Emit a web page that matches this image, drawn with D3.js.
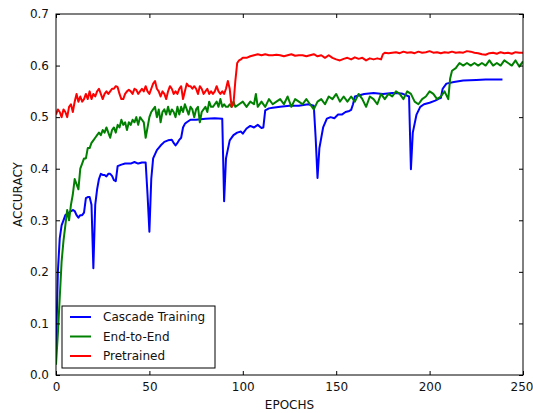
<!DOCTYPE html>
<html>
<head>
<meta charset="utf-8">
<script src="https://cdn.jsdelivr.net/npm/d3@7"></script>
<style>
  body { margin: 0; background: #fff; }
  text { font-family: "DejaVu Sans", sans-serif; fill: #111; }
</style>
</head>
<body>
<script>
// Cascade Training (blue)
const cascadeEpochs = [0,1,2,3,4,5,7,9,10,11,12,13,14,15,16,17,18,19,20,21,22,23,24,25,26,27,28,29,30,31,32,33,35,37,40,42,44,46,48,49,50,51,52,54,56,58,60,62,63,64,65,66,67,68,69,70,72,75,80,85,89,90,91,93,95,97,99,100,102,104,106,108,110,111,112,114,116,120,125,130,135,138,139,140,141,143,145,147,149,151,153,155,157,158,159,160,162,165,170,175,180,185,189,190,191,193,195,197,200,203,205,206,207,209,213,218,225,230,235,239];
const cascadeAcc = [0.05,0.2,0.265,0.29,0.30,0.31,0.315,0.32,0.318,0.31,0.305,0.31,0.31,0.315,0.343,0.345,0.345,0.33,0.207,0.33,0.36,0.38,0.39,0.388,0.388,0.385,0.39,0.39,0.386,0.378,0.376,0.405,0.408,0.41,0.41,0.413,0.41,0.412,0.412,0.35,0.278,0.38,0.42,0.436,0.445,0.452,0.455,0.456,0.45,0.445,0.45,0.456,0.46,0.48,0.487,0.49,0.495,0.495,0.497,0.498,0.497,0.337,0.42,0.455,0.465,0.47,0.472,0.468,0.478,0.483,0.48,0.485,0.479,0.48,0.513,0.517,0.518,0.52,0.522,0.522,0.525,0.522,0.46,0.382,0.44,0.48,0.497,0.5,0.498,0.505,0.505,0.51,0.512,0.514,0.525,0.54,0.542,0.545,0.547,0.545,0.547,0.546,0.54,0.399,0.47,0.505,0.52,0.525,0.528,0.532,0.536,0.537,0.555,0.565,0.568,0.571,0.572,0.573,0.573,0.573];

// End-to-End (green)
const endEpochs = [0,1,2,3,4,5,6,7,8,9,10,11,12,13,14,15,16,17,18,19,20,21,22,23,24,25,26,27,28,29,30,31,32,33,34,35,36,37,38,39,40,41,42,43,44,45,46,47,48,49,50,51,52,53,54,55,56,57,58,59,60,61,62,63,64,65,66,67,68,69,70,71,72,73,74,75,76,77,78,79,80,81,82,83,84,85,86,87,88,89,90,91,92,93,94,95,96,98,100,102,104,106,107,108,110,112,114,116,118,120,122,124,126,128,130,132,134,136,138,140,142,144,146,148,150,152,154,156,158,160,162,164,166,168,170,172,174,176,178,180,182,184,186,188,190,192,194,196,198,200,202,204,206,208,210,211,212,214,216,218,220,222,224,226,228,230,232,234,236,238,240,242,244,246,248,250];
const endAcc = [0.02,0.08,0.15,0.22,0.26,0.29,0.32,0.30,0.33,0.35,0.38,0.37,0.36,0.40,0.41,0.42,0.42,0.44,0.44,0.45,0.455,0.46,0.465,0.47,0.465,0.475,0.47,0.48,0.47,0.46,0.475,0.48,0.47,0.485,0.48,0.495,0.485,0.49,0.475,0.49,0.485,0.495,0.49,0.50,0.485,0.50,0.495,0.49,0.46,0.48,0.50,0.51,0.515,0.52,0.50,0.515,0.49,0.51,0.515,0.505,0.52,0.505,0.515,0.51,0.50,0.52,0.505,0.52,0.51,0.525,0.515,0.505,0.52,0.515,0.50,0.515,0.52,0.49,0.51,0.515,0.52,0.51,0.53,0.52,0.52,0.525,0.53,0.52,0.535,0.52,0.525,0.52,0.52,0.525,0.52,0.53,0.52,0.525,0.53,0.52,0.53,0.525,0.545,0.52,0.53,0.52,0.535,0.525,0.53,0.535,0.525,0.54,0.52,0.535,0.53,0.525,0.535,0.525,0.515,0.53,0.535,0.525,0.54,0.535,0.545,0.53,0.54,0.53,0.54,0.53,0.545,0.535,0.52,0.54,0.535,0.525,0.545,0.535,0.545,0.54,0.55,0.545,0.535,0.55,0.545,0.53,0.525,0.535,0.54,0.55,0.545,0.535,0.54,0.55,0.535,0.575,0.59,0.595,0.605,0.60,0.605,0.60,0.605,0.60,0.605,0.60,0.61,0.60,0.605,0.60,0.61,0.605,0.60,0.61,0.598,0.608];

// Pretrained (red)
const preEpochs = [0,1,2,3,4,5,6,7,8,9,10,11,12,13,14,15,16,17,18,19,20,21,22,23,24,25,26,27,28,29,30,31,32,33,34,35,36,37,38,39,40,41,42,43,44,45,46,47,48,49,50,51,52,53,54,55,56,57,58,59,60,61,62,63,64,65,66,67,68,69,70,71,72,73,74,75,76,77,78,79,80,81,82,83,84,85,86,87,88,89,90,91,92,93,94,95,96,97,98,99,100,102,104,106,108,110,112,114,116,118,120,122,124,126,128,130,132,134,136,138,140,142,144,146,148,150,152,154,156,158,160,162,164,166,168,170,172,174,175,176,178,180,182,184,186,188,190,192,194,196,198,200,202,204,206,208,210,212,214,216,218,220,222,224,226,228,230,232,234,236,238,240,242,244,246,248,250];
const preAcc = [0.505,0.515,0.51,0.50,0.515,0.51,0.50,0.52,0.525,0.51,0.53,0.545,0.53,0.54,0.53,0.535,0.545,0.535,0.55,0.535,0.545,0.54,0.55,0.555,0.545,0.535,0.545,0.55,0.545,0.55,0.555,0.555,0.56,0.558,0.545,0.535,0.535,0.545,0.55,0.553,0.55,0.545,0.555,0.553,0.545,0.55,0.555,0.55,0.56,0.55,0.545,0.555,0.565,0.57,0.555,0.55,0.54,0.55,0.545,0.535,0.55,0.56,0.555,0.545,0.55,0.545,0.555,0.56,0.535,0.55,0.565,0.56,0.56,0.555,0.56,0.555,0.545,0.56,0.555,0.545,0.55,0.555,0.545,0.55,0.545,0.55,0.56,0.55,0.545,0.55,0.545,0.555,0.57,0.555,0.52,0.525,0.57,0.605,0.61,0.612,0.615,0.615,0.618,0.62,0.622,0.62,0.622,0.62,0.62,0.621,0.62,0.618,0.62,0.622,0.619,0.62,0.62,0.618,0.62,0.622,0.618,0.62,0.615,0.62,0.615,0.612,0.61,0.613,0.615,0.612,0.616,0.613,0.615,0.61,0.614,0.612,0.614,0.612,0.622,0.625,0.624,0.625,0.626,0.624,0.627,0.625,0.626,0.624,0.627,0.625,0.626,0.628,0.625,0.626,0.624,0.626,0.625,0.627,0.625,0.626,0.625,0.628,0.627,0.625,0.624,0.622,0.621,0.624,0.625,0.623,0.626,0.624,0.625,0.623,0.626,0.625,0.625];

const seriesNames = ['Cascade Training', 'End-to-End', 'Pretrained'];
const seriesColors = ['#0000ff', '#008000', '#ff0000'];
const xTicks = [0, 50, 100, 150, 200, 250];
const yTicks = [0, 0.1, 0.2, 0.3, 0.4, 0.5, 0.6, 0.7];

const width = 533, height = 413;
const margin = { left: 56, right: 10, top: 14, bottom: 38 };

const series = [
  { name: seriesNames[0], color: seriesColors[0], pts: cascadeEpochs.map((e, i) => [e, cascadeAcc[i]]) },
  { name: seriesNames[1], color: seriesColors[1], pts: endEpochs.map((e, i) => [e, endAcc[i]]) },
  { name: seriesNames[2], color: seriesColors[2], pts: preEpochs.map((e, i) => [e, preAcc[i]]) }
];

const svg = d3.select('body').append('svg')
  .attr('width', width)
  .attr('height', height);

const x = d3.scaleLinear().domain([0, 250]).range([margin.left, width - margin.right]);
const y = d3.scaleLinear().domain([0, 0.7]).range([height - margin.bottom, margin.top]);

svg.append('defs').append('clipPath').attr('id', 'clip')
  .append('rect')
  .attr('x', margin.left).attr('y', margin.top)
  .attr('width', x(250) - x(0)).attr('height', y(0) - y(0.7));

const line = d3.line().x((d) => x(d[0])).y((d) => y(d[1]));

svg.append('g').attr('clip-path', 'url(#clip)')
  .selectAll('path')
  .data(series)
  .enter()
  .append('path')
  .attr('d', (d) => line(d.pts))
  .attr('fill', 'none')
  .attr('stroke', (d) => d.color)
  .attr('stroke-width', 2)
  .attr('stroke-linejoin', 'round');

// axes, ticks pointing inward on every side
const tk = 4;
const xAxis = svg.append('g')
  .attr('transform', `translate(0,${y(0)})`)
  .call(d3.axisBottom(x).tickValues(xTicks).tickSize(-tk).tickPadding(7).tickFormat(d3.format('d')));
svg.append('g')
  .attr('transform', `translate(0,${y(0.7)})`)
  .call(d3.axisTop(x).tickValues(xTicks).tickSize(-tk).tickFormat(''));
svg.append('g')
  .attr('transform', `translate(${x(0)},0)`)
  .call(d3.axisLeft(y).tickValues(yTicks).tickSize(-tk).tickPadding(7).tickFormat(d3.format('.1f')));
svg.append('g')
  .attr('transform', `translate(${x(250)},0)`)
  .call(d3.axisRight(y).tickValues(yTicks).tickSize(-tk).tickFormat(''));

svg.selectAll('.domain').remove();
svg.selectAll('.tick line').attr('stroke', '#000');
svg.selectAll('.tick text').attr('font-size', 12).attr('font-family', 'DejaVu Sans, sans-serif').attr('fill', '#111');
// the last label sits right at the page edge, keep it inside
xAxis.selectAll('.tick text').filter((d) => d === 250)
  .attr('text-anchor', 'end').attr('x', 10);

svg.append('rect')
  .attr('x', x(0)).attr('y', y(0.7))
  .attr('width', x(250) - x(0)).attr('height', y(0) - y(0.7))
  .attr('fill', 'none').attr('stroke', '#000').attr('stroke-width', 1);

// axis titles
svg.append('text')
  .attr('x', (x(0) + x(250)) / 2)
  .attr('y', 409)
  .attr('text-anchor', 'middle')
  .attr('font-size', 12)
  .text('EPOCHS');

svg.append('text')
  .attr('transform', `translate(22,${(y(0) + y(0.7)) / 2}) rotate(-90)`)
  .attr('text-anchor', 'middle')
  .attr('font-size', 12)
  .text('ACCURACY');

// legend
const legend = svg.append('g').attr('transform', 'translate(62,306)');
legend.append('rect')
  .attr('width', 153).attr('height', 62)
  .attr('fill', '#fff').attr('stroke', '#000').attr('stroke-width', 1);
const item = legend.selectAll('.item')
  .data(series)
  .enter()
  .append('g')
  .attr('transform', (d, i) => `translate(0,${11 + i * 19.5})`);
item.append('line')
  .attr('x1', 8).attr('x2', 29)
  .attr('stroke', (d) => d.color).attr('stroke-width', 2);
item.append('text')
  .attr('x', 41).attr('dy', '0.35em')
  .attr('font-size', 12)
  .text((d) => d.name);
</script>
</body>
</html>
